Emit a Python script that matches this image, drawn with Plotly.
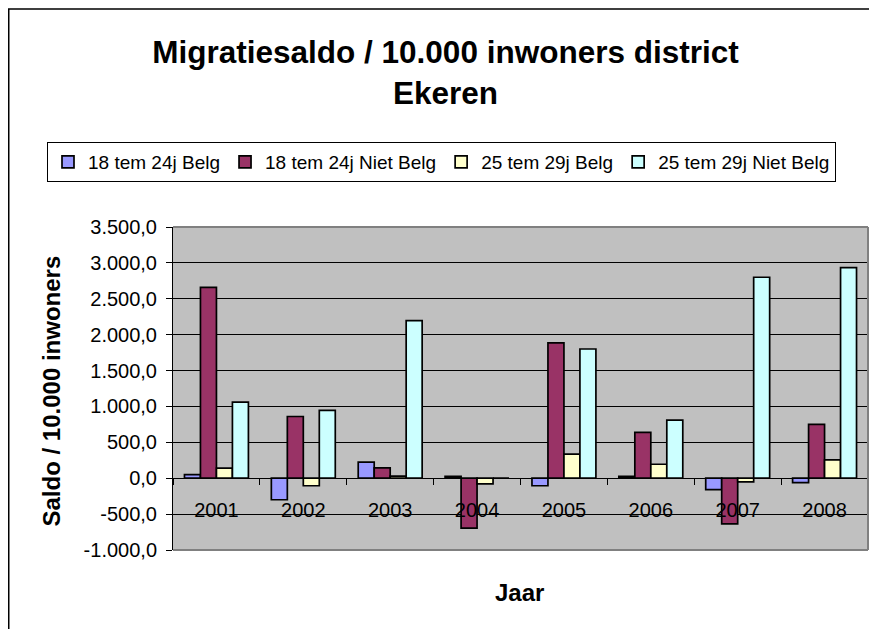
import plotly.graph_objects as go

years = ["2001", "2002", "2003", "2004", "2005", "2006", "2007", "2008"]
series_names = ["18 tem 24j Belg", "18 tem 24j Niet Belg", "25 tem 29j Belg", "25 tem 29j Niet Belg"]
v_18_24_belg = [50, -300, 225, 25, -105, 25, -160, -60]
v_18_24_niet = [2660, 860, 145, -695, 1885, 640, -635, 750]
v_25_29_belg = [140, -105, 30, -80, 335, 195, -50, 255]
v_25_29_niet = [1060, 945, 2195, 0, 1800, 810, 2800, 2935]
colors = ["#9999FF", "#993366", "#FFFFCC", "#CCFFFF"]
y_tickvals = [-1000, -500, 0, 500, 1000, 1500, 2000, 2500, 3000, 3500]
y_ticktext = ["-1.000,0", "-500,0", "0,0", "500,0", "1.000,0", "1.500,0",
              "2.000,0", "2.500,0", "3.000,0", "3.500,0"]

FONT = "Liberation Sans, Arial, sans-serif"
OFF = 8  # page body margin
W, H = 877 - OFF, 629 - OFF
# plot area in window pixels: x 173..868, y 227..550
L = 173 - OFF
T = 227 - OFF
R = W - (868 - OFF)
B = H - (550 - OFF)
PW, PH = W - L - R, H - T - B
YMIN, YMAX = -1000, 3500


def px_x(p):
    return (p - OFF - L) / PW


def px_y(p):
    return (H - B - (p - OFF)) / PH


fig = go.Figure()
for name, vals, col in zip(series_names,
                           [v_18_24_belg, v_18_24_niet, v_25_29_belg, v_25_29_niet],
                           colors):
    fig.add_trace(go.Bar(x=years, y=vals, name=name,
                         marker=dict(color=col, line=dict(color="black", width=1.7))))

zero_pos = (0 - YMIN) / (YMAX - YMIN)

fig.update_layout(
    width=W, height=H,
    margin=dict(l=L, r=R, t=T, b=B, autoexpand=False),
    paper_bgcolor="white",
    plot_bgcolor="#C0C0C0",
    font=dict(family=FONT, color="black", size=20),
    barmode="group",
    bargap=0.264,
    bargroupgap=0,
    showlegend=True,
    title=dict(
        text="<b>Migratiesaldo / 10.000 inwoners district<br>Ekeren</b>",
        font=dict(size=31.5, family=FONT, color="black"),
        x=(445.5 - OFF) / W, xanchor="center", xref="container",
        y=1 - 55 / H, yanchor="top", yref="container",
    ),
    legend=dict(
        orientation="h",
        x=px_x(47), xanchor="left",
        y=px_y(142), yanchor="top",
        bordercolor="black", borderwidth=1, bgcolor="white",
        font=dict(size=19, family=FONT),
        traceorder="normal",
        itemwidth=30,
    ),
    xaxis=dict(
        type="category",
        anchor="free", position=zero_pos,
        showline=True, linecolor="black", linewidth=1,
        ticks="outside", tickson="boundaries", ticklen=6, tickcolor="black",
        ticklabelstandoff=14,
        showgrid=False,
        tickfont=dict(size=20),
    ),
    yaxis=dict(
        range=[YMIN, YMAX],
        tickvals=y_tickvals, ticktext=y_ticktext,
        showline=True, linecolor="black", linewidth=1,
        ticks="outside", ticklen=6, tickcolor="black",
        ticklabelstandoff=5,
        showgrid=True, gridcolor="black", gridwidth=1,
        zeroline=True, zerolinecolor="black", zerolinewidth=1,
        tickfont=dict(size=20),
    ),
    annotations=[
        dict(text="<b>Saldo / 10.000 inwoners</b>", textangle=-90,
             xref="paper", yref="paper", x=px_x(51), y=px_y(391.5),
             xanchor="center", yanchor="middle", showarrow=False,
             font=dict(size=24, family=FONT)),
        dict(text="<b>Jaar</b>",
             xref="paper", yref="paper", x=px_x(519.5), y=px_y(592),
             xanchor="center", yanchor="middle", showarrow=False,
             font=dict(size=24, family=FONT)),
    ],
    shapes=[
        dict(type="line", xref="paper", yref="paper", x0=0, x1=1, y0=1, y1=1,
             line=dict(color="#808080", width=2), layer="above"),
        dict(type="line", xref="paper", yref="paper", x0=1, x1=1, y0=0, y1=1,
             line=dict(color="#808080", width=2), layer="above"),
        dict(type="line", xref="paper", yref="paper", x0=0, x1=1, y0=0, y1=0,
             line=dict(color="#808080", width=2), layer="above"),
        dict(type="rect", xref="paper", yref="paper",
             x0=px_x(OFF + 0.75), x1=px_x(920), y0=px_y(9), y1=px_y(680),
             line=dict(color="black", width=1.5), fillcolor="rgba(0,0,0,0)",
             layer="below"),
    ],
)

fig.write_html("out.html")
